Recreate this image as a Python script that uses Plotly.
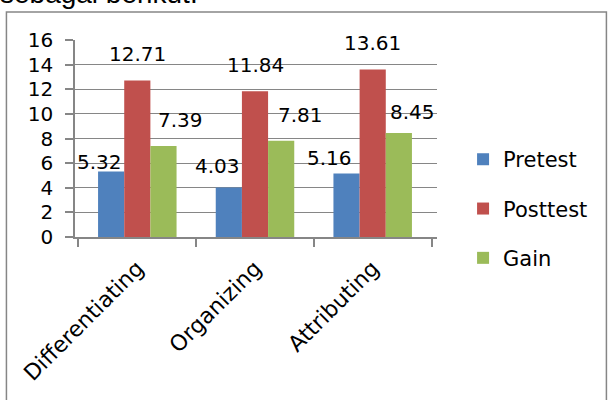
import plotly.graph_objects as go

# Scores per thinking skill
categories = ["Differentiating", "Organizing", "Attributing"]
pretest = [5.32, 4.03, 5.16]
posttest = [12.71, 11.84, 13.61]
gain = [7.39, 7.81, 8.45]
y_tick_values = [0, 2, 4, 6, 8, 10, 12, 14, 16]

series_names = ["Pretest", "Posttest", "Gain"]
series_values = [pretest, posttest, gain]
series_colors = ["#4F81BD", "#C0504D", "#9BBB59"]

# label placement (pixel offsets from the top-centre of each bar)
label_dx = [[-11, -11, -16], [0, 0, 0], [16, 19, 13]]
label_dy = [[10, 21, 15], [27, 26, 26], [26, 26, 21]]

FONT = "DejaVu Sans"
GRAY = "#868686"

fig = go.Figure()
for i, (name, vals, col) in enumerate(zip(series_names, series_values, series_colors)):
    fig.add_trace(go.Bar(
        x=categories, y=vals, name=name, legendgroup=name,
        marker=dict(color=col, line=dict(width=0)),
    ))

# bar width in pixels: plot width / categories * (1 - bargap) / series
plot_w = 361.7
bargap = 0.333
bar_px = plot_w / len(categories) * (1 - bargap) / len(series_names)

annotations = []
for i, vals in enumerate(series_values):
    offset = (i - 1) * bar_px
    for j, v in enumerate(vals):
        annotations.append(dict(
            x=categories[j], y=v, xref="x", yref="y",
            text=f"{v:.2f}", showarrow=False,
            xanchor="center", yanchor="middle",
            xshift=offset + label_dx[i][j], yshift=label_dy[i][j],
            font=dict(family=FONT, size=20, color="#000"),
        ))

# document sentence just above the chart frame
annotations.append(dict(
    x=-0.213, y=1.147, xref="paper", yref="paper",
    text="sebagai berikut.", showarrow=False,
    xanchor="left", yanchor="bottom",
    font=dict(family="Liberation Sans", size=28, color="#000"),
))

fig.update_layout(
    width=609, height=400,
    margin=dict(l=75, r=172.3, t=40, b=163.3),
    paper_bgcolor="white", plot_bgcolor="white",
    barmode="group", bargap=bargap, bargroupgap=0,
    font=dict(family=FONT, size=20, color="#000"),
    showlegend=True,
    legend=dict(
        x=1.072, y=0.497, xanchor="left", yanchor="top",
        font=dict(family=FONT, size=21, color="#000"),
        tracegroupgap=19, traceorder="grouped",
        bgcolor="rgba(0,0,0,0)", borderwidth=0,
    ),
    annotations=annotations,
    shapes=[dict(
        type="rect", xref="paper", yref="paper",
        x0=-0.1894, x1=1.468, y0=-0.9, y1=1.1424,
        line=dict(color=GRAY, width=1.5), fillcolor="rgba(0,0,0,0)",
        layer="below",
    )],
)

fig.update_xaxes(
    showline=True, linecolor=GRAY, linewidth=1.5,
    ticks="outside", tickson="boundaries", ticklen=8, tickcolor=GRAY, tickwidth=1.5,
    tickangle=-45, showgrid=False, zeroline=False,
    tickfont=dict(family=FONT, size=22, color="#000"),
    ticklabelstandoff=8,
)
fig.update_yaxes(
    range=[0, 16], tickvals=y_tick_values,
    showline=True, linecolor=GRAY, linewidth=1.5,
    ticks="outside", ticklen=8, tickcolor=GRAY, tickwidth=1.5,
    showgrid=True, gridcolor=GRAY, gridwidth=1.3, zeroline=False,
    tickfont=dict(family=FONT, size=20, color="#000"),
    ticklabelstandoff=8,
)

fig.write_html("out.html")
